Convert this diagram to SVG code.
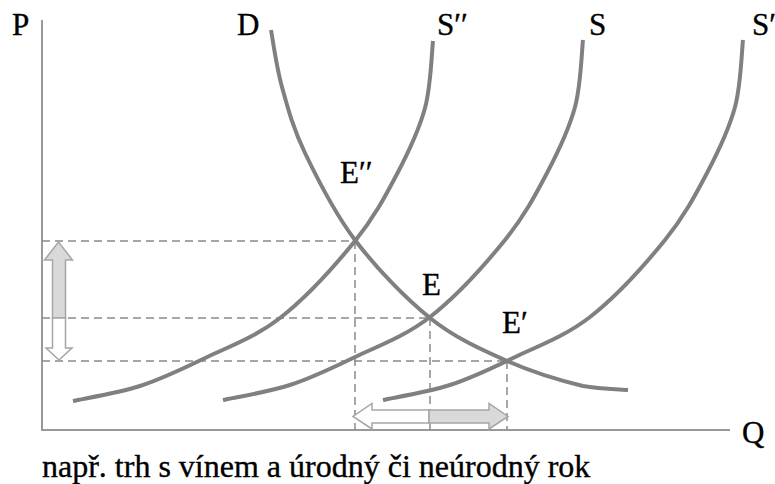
<svg xmlns="http://www.w3.org/2000/svg" width="775" height="484" viewBox="0 0 775 484">
<style>
.axis{stroke:#999999;stroke-width:2;fill:none}
.curve{stroke:#808080;stroke-width:4;fill:none;stroke-linecap:butt}
.dash{stroke:#8a8a8a;stroke-width:1.5;fill:none;stroke-dasharray:8 5}
.arrG{fill:#d9d9d9;stroke:#a6a6a6;stroke-width:1.5;stroke-linejoin:miter}
.arrW{fill:#ffffff;stroke:#a6a6a6;stroke-width:1.5;stroke-linejoin:miter}
</style>
<rect width="775" height="484" fill="#ffffff"/>
<g id="axes">
<line class="axis" x1="42" y1="20" x2="42" y2="431"/>
<line class="axis" x1="41" y1="430" x2="730" y2="430"/>
</g>
<g id="guides">
<line class="dash" x1="42" y1="241" x2="355" y2="241"/>
<line class="dash" x1="42" y1="318" x2="430" y2="318"/>
<line class="dash" x1="42" y1="361" x2="507" y2="361"/>
<line class="dash" x1="355" y1="241" x2="355" y2="430"/>
<line class="dash" x1="430" y1="318" x2="430" y2="430"/>
<line class="dash" x1="507" y1="361" x2="507" y2="430"/>
</g>
<g id="curves">
<path id="D-curve" class="curve" d="M271,30 C272.8,39.5 276.3,66.5 282,87 C287.7,107.5 292.8,127.5 305,153 C317.2,178.5 334.2,212.5 355,240 C375.8,267.5 404.7,297.8 430,318 C455.3,338.2 481.5,349.7 507,361 C532.5,372.3 562.8,381.2 583,386 C600,389 620.5,389.3 628,390"/>
<path id="S-curve" class="curve" d="M583,40 C581.7,51.2 581,84.8 575,107 C569,129.2 558.7,150.8 547,173 C535.3,195.2 524.5,216 505,240 C485.5,264 455.3,297.3 430,317 C404.7,336.7 376.3,346.7 353,358 C329.7,369.3 311.7,378 290,385 C268.3,392 234.2,397.5 223,400"/>
<path id="S2-curve" class="curve" transform="translate(-150,1)" d="M583,40 C581.7,51.2 581,84.8 575,107 C569,129.2 558.7,150.8 547,173 C535.3,195.2 524.5,216 505,240 C485.5,264 455.3,297.3 430,317 C404.7,336.7 376.3,346.7 353,358 C329.7,369.3 311.7,378 290,385 C268.3,392 234.2,397.5 223,400"/>
<path id="S1-curve" class="curve" transform="translate(160,0)" d="M583,40 C581.7,51.2 581,84.8 575,107 C569,129.2 558.7,150.8 547,173 C535.3,195.2 524.5,216 505,240 C485.5,264 455.3,297.3 430,317 C404.7,336.7 376.3,346.7 353,358 C329.7,369.3 311.7,378 290,385 C268.3,392 234.2,397.5 223,400"/>
</g>
<g id="price-arrows">
<polygon class="arrG" points="58.5,242 72.5,260 65.5,260 65.5,318 52.5,318 52.5,260 44.5,260"/>
<polygon class="arrW" points="52.5,318 65.5,318 65.5,348 72,348 59,360 46,348 52.5,348"/>
</g>
<g id="quantity-arrows">
<polygon class="arrW" points="429,410 372,410 372,403.5 353,416.5 372,429 372,423 429,423"/>
<polygon class="arrG" points="429,410 489,410 489,403.5 508,416.5 489,429 489,423 429,423"/>
</g>
<g id="labels" fill="#000000" stroke="#000000" stroke-width="0.35">
<text x="12" y="35" font-family="Liberation Serif" font-size="31">P</text>
<text x="237" y="35" font-family="Liberation Serif" font-size="31">D</text>
<text x="437" y="35" font-family="Liberation Serif" font-size="31">S′′</text>
<text x="589" y="35" font-family="Liberation Serif" font-size="31">S</text>
<text x="752" y="35" font-family="Liberation Serif" font-size="31">S′</text>
<text x="340" y="183" font-family="Liberation Serif" font-size="31">E′′</text>
<text x="422" y="295" font-family="Liberation Serif" font-size="31">E</text>
<text x="502" y="333" font-family="Liberation Serif" font-size="31">E′</text>
<text x="742" y="443" font-family="Liberation Serif" font-size="31">Q</text>
<text x="42" y="477" font-family="Liberation Serif" font-size="32">např. trh s vínem a úrodný či neúrodný rok</text>
</g>
</svg>
